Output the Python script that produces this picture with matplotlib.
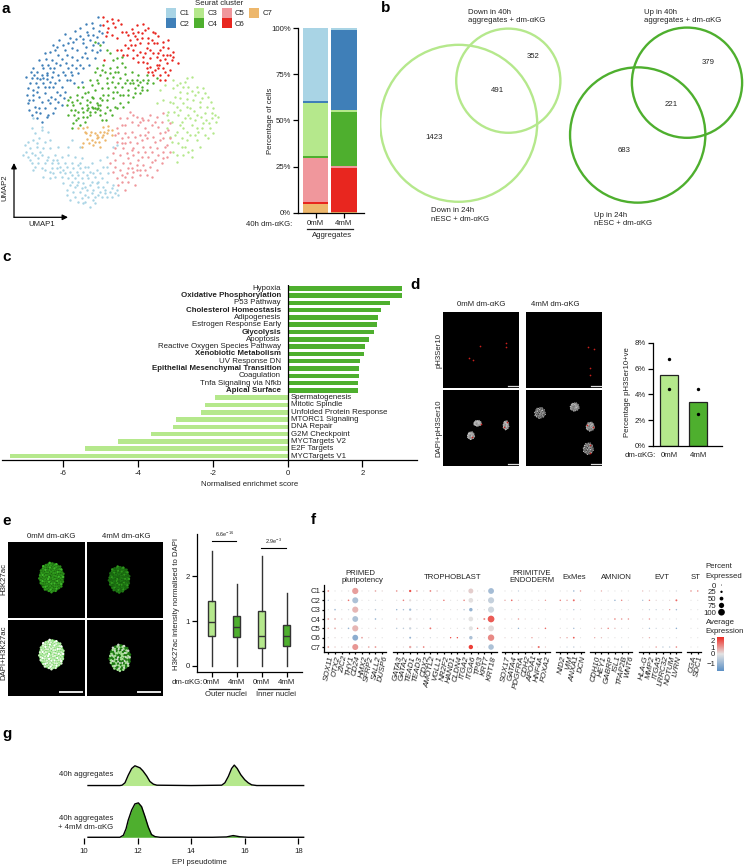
import numpy as np
import matplotlib
matplotlib.use('Agg')
import matplotlib.pyplot as plt
from matplotlib.colors import LinearSegmentedColormap, TwoSlopeNorm
from matplotlib.cm import ScalarMappable
from matplotlib.lines import Line2D
from matplotlib.patches import Patch, Circle, FancyArrowPatch, Ellipse

plt.rcParams.update({
    'font.family': ['Liberation Sans', 'DejaVu Sans'], 'font.size': 5.6,
    'axes.linewidth': 0.9, 'xtick.major.width': 0.9, 'ytick.major.width': 0.9,
    'xtick.major.size': 3.8, 'ytick.major.size': 3.8, 'xtick.major.pad': 1.5, 'ytick.major.pad': 1.5,
    'mathtext.fontset': 'custom', 'mathtext.rm': 'Liberation Sans', 'mathtext.default': 'regular',
    'text.color': '#222222', 'xtick.labelcolor': '#222222', 'ytick.labelcolor': '#222222',
})

# ---------------- palette
C1_COL, C2_COL, C3_COL, C4_COL, C5_COL, C6_COL, C7_COL = (
    '#a9d4e5', '#3f7fb8', '#b5e88c', '#4eaf2e', '#f0979c', '#e8261f', '#edb76c')
CLUSTER_COLS = [C1_COL, C2_COL, C3_COL, C4_COL, C5_COL, C6_COL, C7_COL]
CLUSTERS = ['C1', 'C2', 'C3', 'C4', 'C5', 'C6', 'C7']

# ---------------- panel a data
UMAP_C2 = [(293,50),(275,68),(257,72),(240,85),(225,92),(195,102),(178,120),(160,135),(135,160),(118,180),(100,205),(78,232),(90,250),(110,235),(125,225),(140,238),(155,232),(165,250),(148,262),(130,248),(115,262),(98,270),(82,285),(85,310),(100,300),(118,290),(135,280),(152,290),(170,275),(185,262),(200,240),(215,225),(235,220),(250,205),(268,195),(285,175),(300,150),(310,125),(290,110),(270,120),(250,130),(232,150),(215,170),(198,188),(180,195),(162,205),(145,195),(128,205),(112,215),(205,130),(220,125),(240,108),(260,95),(280,85),(300,75),(305,100),(195,150),(175,165),(155,180),(138,178),(215,195),(232,180),(255,160),(275,150),(295,130),(190,215),(205,205),(175,225),(160,215),(88,330),(105,320),(120,340),(135,325),(150,310),(165,298),(180,285),(195,275),(110,355),(125,365),(145,345),(165,325),(185,315),(95,345),(262,175),(240,195),(222,250),(245,245),(150,155),(170,140),(210,115),(125,195),(142,218),(100,285),(85,265),(290,155),
           (130,235),(142,225),(150,245),(120,238),(108,250),(135,262),(95,235),(88,300),(110,275),(125,305),(143,300),(160,262),(178,240),(195,225),(210,240),(228,205),(245,170),(258,140),(280,135),(228,118),(200,165),(185,178),(168,190),(150,205),(118,325),(140,352),(108,335),(160,340),(175,305),(192,295),(265,105),(250,118),(215,145),(188,135),(165,150),(278,105),(298,92),(212,215),(92,215),(102,225)]
UMAP_C6 = [(308,50),(320,62),(335,58),(355,60),(310,75),(325,85),(345,80),(362,72),(378,95),(395,88),(410,75),(430,72),(445,85),(460,95),(475,108),(490,125),(505,145),(520,155),(535,190),(515,180),(500,165),(480,150),(462,130),(445,115),(425,100),(405,108),(390,120),(375,135),(362,150),(380,165),(400,150),(420,130),(440,145),(460,160),(480,180),(500,190),(510,210),(490,205),(470,195),(450,175),(430,170),(415,185),(440,205),(455,215),(480,225),(505,225),(495,240),(350,115),(335,105),(318,108),(365,95),(420,155),(400,175),(385,145),(470,130),(490,165),(445,130),(412,118),(435,90),(475,205),(505,120),(312,180),(480,240),(465,100),
           (440,190),(450,200),(465,210),(478,195),(495,215),(460,225),(445,215),(430,185),(410,165),(392,135),(405,135),(425,115),(450,150),(470,170),(488,140),(510,165),(495,178),(415,95),(400,100),(368,165),(352,150),(385,105),(340,70),(322,95),(475,160),(435,160),(455,120),(520,170)]
UMAP_C4 = [(285,125),(300,135),(320,150),(340,180),(365,170),(310,195),(330,205),(350,200),(375,200),(395,215),(415,225),(440,225),(460,250),(420,245),(400,250),(380,240),(360,235),(340,230),(320,235),(300,225),(285,215),(270,240),(250,260),(232,285),(210,290),(200,315),(205,345),(220,370),(215,385),(235,355),(250,335),(265,325),(285,325),(300,330),(315,340),(335,345),(350,325),(370,320),(385,305),(400,290),(420,280),(440,270),(360,285),(340,295),(320,300),(300,295),(280,295),(260,300),(240,310),(225,330),(245,290),(265,275),(285,270),(305,265),(325,265),(345,260),(365,260),(385,270),(405,265),(425,260),(295,250),(315,215),(335,245),(355,215),(375,222),(275,320),(290,328),(300,345),(255,365),(240,375),(270,345),(320,320),(305,360),(345,320),(275,290),(290,240),(410,240),(430,240),(370,285),(350,175),(330,160),(470,235),(390,250),(235,260),(215,305),(260,315),(285,335),(250,350),(295,315),(310,285),
           (280,325),(270,335),(295,325),(262,330),(245,325),(235,335),(222,345),(212,330),(305,300),(325,285),(350,275),(375,250),(395,240),(415,255),(440,250),(330,220),(345,215),(365,190),(305,210),(290,205),(355,250),(275,255),(255,280),(230,300),(220,315),(270,305),(290,310),(330,330),(360,310),(385,285),(405,280),(425,270),(445,240),(320,250),(340,275),(300,315),(318,360),(260,350),(228,360),(205,300)]
UMAP_C3 = [(520,240),(540,250),(560,235),(575,230),(590,260),(610,265),(625,290),(640,325),(655,352),(635,355),(615,340),(600,320),(580,300),(560,280),(540,275),(525,290),(510,305),(530,320),(550,310),(570,325),(590,345),(610,370),(630,385),(640,400),(615,405),(595,395),(575,375),(555,355),(535,345),(515,365),(500,385),(510,410),(530,395),(550,385),(570,405),(590,420),(575,450),(555,440),(535,430),(520,455),(530,485),(550,465),(575,470),(545,415),(500,345),(480,270),(495,255),(520,265),(565,260),(605,295),(625,415),(600,440),(565,345),(585,285),(620,320),(545,365),(505,335),(470,310),(490,300),(555,245),(635,340),(515,425),(560,420),(585,360),
           (530,255),(548,262),(575,272),(595,275),(615,280),(632,305),(645,345),(628,370),(602,352),(582,332),(560,322),(540,330),(522,335),(518,310),(540,295),(560,298),(600,305),(618,360),(648,365),(605,385),(585,405),(560,395),(540,375),(525,405),(505,360),(545,440),(530,465),(565,455),(590,385),(570,355)]
UMAP_C5 = [(390,335),(410,350),(430,360),(450,345),(470,350),(490,340),(510,370),(495,395),(475,380),(455,375),(435,385),(415,375),(395,365),(375,375),(360,355),(355,400),(375,400),(395,395),(420,405),(440,415),(460,410),(480,420),(500,435),(510,455),(490,455),(470,445),(450,440),(430,440),(410,430),(390,425),(365,430),(345,445),(360,465),(380,460),(400,465),(425,470),(445,470),(465,480),(485,490),(470,510),(450,500),(430,495),(410,495),(390,490),(370,490),(345,480),(330,490),(340,515),(360,510),(380,520),(400,515),(420,525),(440,525),(385,545),(365,545),(350,535),(375,570),(405,555),(420,510),(455,530),(490,475),(510,415),(345,405),(370,445),(400,445),(415,455),(435,405),(385,475),(340,460),(365,375),(480,400),(500,470),(395,505),(375,530),(350,385),(425,355),
           (400,345),(420,365),(445,360),(465,365),(485,365),(505,390),(490,415),(465,425),(445,395),(425,420),(405,410),(385,410),(365,415),(350,425),(375,430),(395,450),(415,480),(435,455),(455,455),(475,465),(495,440),(455,485),(435,510),(410,510),(385,505),(365,525),(345,500),(355,555),(395,530),(380,355)]
UMAP_C7 = [(235,385),(250,385),(262,382),(258,400),(270,405),(285,400),(300,395),(310,380),(325,378),(335,390),(320,400),(305,410),(290,415),(275,420),(262,418),(250,430),(280,435),(298,425),(315,420),(335,405),(300,440),(268,430),(290,405),(245,440),(312,395),
           (255,395),(272,395),(295,410),(310,405),(285,425),(325,390)]
UMAP_C1 = [(95,385),(105,400),(125,390),(85,425),(100,420),(118,415),(135,425),(150,420),(75,435),(90,445),(110,440),(130,445),(150,445),(70,465),(85,470),(105,465),(125,465),(145,470),(165,465),(185,470),(205,465),(225,470),(245,475),(95,490),(115,490),(135,490),(155,490),(175,490),(195,490),(215,490),(235,495),(255,500),(275,490),(300,480),(320,470),(100,510),(125,505),(150,515),(170,505),(190,510),(210,515),(230,515),(250,515),(270,515),(290,510),(310,500),(325,520),(165,530),(185,530),(205,535),(225,535),(245,535),(265,535),(285,530),(305,535),(320,545),(340,555),(190,550),(210,555),(230,555),(250,550),(270,555),(290,550),(310,560),(330,575),(350,570),(200,570),(220,575),(240,575),(260,570),(280,570),(300,575),(320,590),(225,590),(245,595),(265,590),(285,590),(305,590),(250,610),(270,620),(280,600),(210,600),(150,535),(130,530),(215,420),(205,440),(240,440),(175,440),(340,440),(350,435),(145,395),(100,355),(125,380),(170,480),(240,490),(295,545),(265,500),(155,505),(115,475),(320,500),(355,585),(180,515),(235,605),
           (110,430),(95,460),(78,455),(120,455),(140,480),(160,480),(180,500),(200,500),(220,505),(240,505),(260,525),(280,520),(300,520),(215,545),(235,545),(255,560),(275,545),(295,560),(315,570),(335,590),(255,585),(275,580),(295,585),(315,580),(200,585),(225,560),(245,565),(105,500),(90,480),(135,510),(160,520),(195,520),(215,525),(235,525),(255,605),(345,580),(285,610),(335,565)]
UMAP_ALL = [UMAP_C1, UMAP_C2, UMAP_C3, UMAP_C4, UMAP_C5, UMAP_C6, UMAP_C7]

STACK_LABELS = ['0mM', '4mM']
STACK_C1 = [39.5, 1.0]
STACK_C2 = [1.2, 43.5]
STACK_C3 = [28.5, 1.0]
STACK_C4 = [1.0, 29.0]
STACK_C5 = [24.0, 1.0]
STACK_C6 = [1.0, 24.2]
STACK_C7 = [4.8, 0.3]

# ---------------- panel b data
VENN_DOWN = {'only24': 1423, 'both': 491, 'only40': 352}
VENN_UP = {'only24': 683, 'both': 221, 'only40': 379}

# ---------------- panel c data
UP_TERMS = ['Hypoxia', 'Oxidative Phosphorylation', 'P53 Pathway', 'Cholesterol Homeostasis', 'Adipogenesis',
            'Estrogen Response Early', 'Glycolysis', 'Apoptosis', 'Reactive Oxygen Species Pathway',
            'Xenobiotic Metabolism', 'UV Response DN', 'Epithelial Mesenchymal Transition', 'Coagulation',
            'Tnfa Signaling via Nfkb', 'Apical Surface']
UP_NES = [3.07, 3.05, 2.75, 2.51, 2.43, 2.39, 2.32, 2.18, 2.07, 2.03, 1.93, 1.91, 1.90, 1.89, 1.87]
BOLD_TERMS = ['Oxidative Phosphorylation', 'Cholesterol Homeostasis', 'Glycolysis', 'Xenobiotic Metabolism',
              'Epithelial Mesenchymal Transition', 'Apical Surface']
DOWN_TERMS = ['Spermatogenesis', 'Mitotic Spindle', 'Unfolded Protein Response', 'MTORC1 Signaling', 'DNA Repair',
              'G2M Checkpoint', 'MYCTargets V2', 'E2F Targets', 'MYCTargets V1']
DOWN_NES = [-1.94, -2.21, -2.32, -2.99, -3.07, -3.65, -4.55, -5.42, -7.44]

# ---------------- panel d data
PH3_LABELS = ['0mM', '4mM']
PH3_MEAN = [5.5, 3.4]
PH3_DOTS_0 = [6.7, 4.45]
PH3_DOTS_4 = [4.4, 2.5]

# ---------------- panel e data
BOX_LABELS = ['0mM', '4mM', '0mM', '4mM']
BOX_LOW = [0.0, 0.0, 0.0, 0.0]
BOX_Q1 = [0.66, 0.65, 0.40, 0.44]
BOX_MED = [0.98, 0.87, 0.66, 0.66]
BOX_Q3 = [1.44, 1.12, 1.23, 0.92]
BOX_HIGH = [2.57, 1.82, 2.45, 1.62]

# ---------------- panel f data
PRIMED_GENES = ['SOX11', 'OTX2', 'ZIC2', 'THY1', 'CD24', 'HMX2', 'SFRP2', 'SALL2', 'DUSP6']
PRIMED_PCT = [[14,6,6,8,92,6,6,13,8],[8,6,6,12,88,5,5,8,6],[6,13,6,8,90,5,5,10,6],[12,16,8,6,85,6,5,12,6],
              [10,15,6,12,90,5,5,8,6],[8,8,6,6,85,14,6,7,6],[13,8,7,8,88,6,13,15,6]]
PRIMED_AVG = [[1.2,0,0,0,.9,0,0,.8,.2],[-.6,0,0,1.5,-.7,0,0,-.2,0],[0,-.8,0,-.2,.6,0,0,-.5,0],[1,.6,.3,0,-.7,0,0,-1,-.1],
              [.8,.7,0,-.9,.6,0,0,.2,0],[.2,.1,.1,0,-1.1,.9,.2,0,0],[1.1,.4,.2,.1,1,0,.8,1,0]]
TROPH_GENES = ['GATA3', 'GATA2', 'TEAD1', 'TEAD3', 'CDX2', 'AMOTL2', 'VGLL1', 'NR2F2', 'HAND1', 'CLDN4', 'ITGA2',
               'ITGA6', 'TP63', 'KRT7', 'KRT18']
TROPH_PCT = [[12,6,24,12,6,15,12,6,5,6,6,70,5,8,85],[6,12,22,7,6,8,6,10,5,6,12,65,5,8,90],
             [10,10,24,7,6,8,6,6,5,6,10,45,5,8,90],[7,6,30,8,6,10,6,6,5,6,7,65,5,18,100],
             [10,10,25,7,6,16,6,6,5,6,7,55,10,12,85],[6,6,18,6,6,8,6,6,9,9,7,45,5,6,95],
             [6,6,25,12,13,7,6,6,5,6,7,60,6,5,80]]
TROPH_AVG = [[1.1,0,2,.9,0,1.3,.4,0,0,0,0,.3,0,0,-.8],[0,1.3,.1,0,0,0,0,1.5,0,0,1.2,.05,0,0,-.4],
             [-.9,-.7,-.8,-.2,0,-.2,0,0,0,0,-.5,-1,0,0,-.25],[.4,0,.1,0,0,-.5,0,0,0,0,-.2,0,0,1.2,1.8],
             [-.5,-.5,-.3,-.2,0,1.5,0,0,0,0,-.2,0,1.5,.3,.1],[0,0,-1,0,0,-.2,0,0,2,2,0,-.7,0,0,1.2],
             [.1,.1,.8,-.4,1.4,0,0,0,0,0,0,2.2,0,0,-.7]]
PE_GENES = ['SOX17', 'GATA4', 'PDGFRA', 'CDH2', 'APOA1', 'HNF4A', 'FOXA2']
PE_PCT = [[6,6,6,5,5,6,6],[10,13,6,6,6,6,8],[6,6,6,6,5,5,5],[6,6,10,6,5,5,5],[6,6,9,5,5,6,11],[6,6,6,6,8,6,6],[6,6,6,6,6,20,6]]
PE_AVG = [[0,0,-.5,0,0,0,0],[.7,1.6,.2,0,0,.2,1],[0,0,-.2,0,0,0,0],[.2,0,1,.2,0,0,0],[0,0,-1,0,0,.2,1.6],[.2,.2,0,0,1,0,0],[0,0,.2,0,.4,1.5,.4]]
EXMES_GENES = ['NID2', 'VIM', 'ANXA1', 'DCN']
EXMES_PCT = [[6,6,10,10],[11,9,18,6],[6,6,9,5],[6,6,6,5],[6,6,9,5],[8,9,15,5],[6,6,10,5]]
EXMES_AVG = [[0,0,-1,1],[1.3,.9,1.6,0],[0,0,-.5,0],[0,0,.2,0],[0,0,-.8,0],[.5,.8,1.8,0],[0,-.3,-.4,0]]
AMNION_GENES = ['CDH10', 'HEY1', 'GABRP', 'ISL1', 'TFAP2B', 'WNT6']
AMNION_PCT = [[6,8,6,5,6,5],[5,6,6,10,10,5],[5,6,5,5,5,5],[5,6,6,12,11,10],[6,8,10,9,6,5],[8,8,6,5,5,5],[6,5,6,5,8,5]]
AMNION_AVG = [[0,.8,0,0,0,0],[0,0,0,-1,1.2,0],[0,0,0,0,0,0],[0,0,.1,1.3,1,1.1],[.2,.5,1.3,.5,0,0],[.8,.5,0,0,0,0],[0,0,0,0,-.4,0]]
EVT_GENES = ['HLA-G', 'MMP2', 'ITGA5', 'LRRC32', 'NOTUM', 'LVRN']
EVT_PCT = [[7,6,6,5,5,8],[8,10,7,5,6,18],[6,6,7,6,8,10],[6,10,6,6,5,5],[6,8,6,5,5,10],[6,8,6,5,5,6],[6,6,10,9,9,12]]
EVT_AVG = [[.6,.2,.2,0,0,-.2],[-.7,1.2,.2,0,.2,1.6],[0,-.4,-.4,0,1,-.8],[.2,1,0,.2,0,0],[0,-.7,-.3,0,0,-1.1],[.3,.7,0,0,0,0],[0,0,.9,-.5,-.5,1.2]]
ST_GENES = ['CGA', 'SDC1']
ST_PCT = [[12,11],[5,5],[5,5],[5,5],[5,5],[5,5],[5,5]]
ST_AVG = [[1,1.2],[0,0],[0,0],[0,0],[0,0],[0,0],[0,0]]
SIZE_LEGEND = [0, 25, 50, 75, 100]

# ---------------- panel g data
RIDGE_X_TOP = [10.15,11.34,11.42,11.53,11.65,11.78,11.90,12.09,12.20,12.34,12.46,12.59,12.72,14.0,15.14,15.26,15.39,15.51,15.61,15.72,15.85,16.00,16.13,16.26,16.45,18.2]
RIDGE_Y_TOP = [0,0,.01,.08,.30,.50,.58,.52,.43,.28,.12,.04,.01,0,.01,.08,.27,.50,.60,.50,.32,.17,.08,.02,0,0]
RIDGE_X_BOT = [10.15,11.34,11.47,11.57,11.65,11.78,11.90,12.03,12.15,12.28,12.40,12.52,12.65,12.84,14.8,15.32,15.57,15.82,16.13,18.2]
RIDGE_Y_BOT = [0,0,.06,.25,.50,.80,.98,1.01,.90,.60,.30,.08,.02,0,0,.01,.05,.015,0,0]
RIDGE_TICKS = [10, 12, 14, 16, 18]

# ---------------- helpers
W, H = 744, 867
fig = plt.figure(figsize=(W/100, H/100), dpi=100)

def axpx(l, t, r, b, **kw):
    return fig.add_axes([l/W, 1-b/H, (r-l)/W, (b-t)/H], **kw)

def T(x, y, s, ha='center', va='center', **kw):
    return fig.text(x/W, 1-y/H, s, ha=ha, va=va, **kw)

def hline(x0, x1, y, lw=0.9, color='#222222'):
    fig.add_artist(Line2D([x0/W, x1/W], [1-y/H, 1-y/H], lw=lw, color=color))

def clean(ax):
    ax.spines[['top', 'right']].set_visible(False)

for lab, x, y in [('a',2,9),('b',381,8),('c',2,257),('d',410,285),('e',2,521),('f',311,520),('g',2,734)]:
    T(x, y, lab, ha='left', fontsize=11, fontweight='bold', color='k')

# ---------------- a : UMAP
ax = axpx(0, 0, 240, 215)
ax.set_xlim(0, 720); ax.set_ylim(645, 0); ax.axis('off')
for pts, col in zip(UMAP_ALL, CLUSTER_COLS):
    p = np.array(pts)
    ax.scatter(p[:, 0], p[:, 1], s=3.0, c=col, linewidths=0)
for end in [(14, 163), (68, 217.3)]:
    fig.add_artist(FancyArrowPatch((14/W, 1-217.3/H), (end[0]/W, 1-end[1]/H), transform=fig.transFigure,
                                   arrowstyle='-|>', mutation_scale=8, lw=0.9, color='k', shrinkA=0, shrinkB=0))
T(5, 188, 'UMAP2', rotation=90)
T(41.7, 224, 'UMAP1')
fig.legend(handles=[Patch(facecolor=c, edgecolor='none', label=l) for c, l in zip(CLUSTER_COLS, CLUSTERS)],
           ncol=4, loc='upper left', bbox_to_anchor=(165.5/W, 1+0.5/H), frameon=False, title='Seurat cluster',
           title_fontsize=5.6, fontsize=5.6, handlelength=1.28, handleheight=1.6, columnspacing=0.6,
           handletextpad=0.42, labelspacing=0.05, borderpad=0.1, borderaxespad=0)

# ---------------- a : stacked bars
ax = axpx(298.3, 28.3, 364, 212.7)
ax.set_xlim(-0.61, 1.72); ax.set_ylim(0, 100); clean(ax)
bottom = np.zeros(2)
for vals, col in zip([STACK_C7, STACK_C6, STACK_C5, STACK_C4, STACK_C3, STACK_C2, STACK_C1],
                     [C7_COL, C6_COL, C5_COL, C4_COL, C3_COL, C2_COL, C1_COL]):
    ax.bar(range(2), vals, bottom=bottom, width=0.91, color=col, linewidth=0)
    bottom += np.array(vals)
ax.set_xticks(range(2), STACK_LABELS)
ax.set_yticks([0, 25, 50, 75, 100], ['0%', '25%', '50%', '75%', '100%'])
T(270, 120.7, 'Percentage of cells', rotation=90)
T(292.7, 224, '40h dm-αKG:', ha='right')
hline(306.7, 353, 229.3)
T(331.7, 235, 'Aggregates')

# ---------------- b : venn
ax = axpx(380, 0, 744, 240)
ax.set_xlim(380, 744); ax.set_ylim(240, 0); ax.axis('off')
def venn(data, c_big, c_small, k, col):
    ax.add_patch(Circle(c_big, k*np.sqrt(data['only24']+data['both']), fill=False, ec=col, lw=1.7))
    ax.add_patch(Circle(c_small, k*np.sqrt(data['only40']+data['both']), fill=False, ec=col, lw=1.7))
venn(VENN_DOWN, (458.7, 123.3), (508.3, 80.7), 1.794, C3_COL)
venn(VENN_UP, (637.7, 135), (687, 82.7), 2.25, C4_COL)
T(532.7, 57, str(VENN_DOWN['only40']))
T(497, 90.3, str(VENN_DOWN['both']))
T(434.3, 137.3, str(VENN_DOWN['only24']))
T(708.7, 62, str(VENN_UP['only40']))
T(671.3, 104.3, str(VENN_UP['both']))
T(624.3, 150.7, str(VENN_UP['only24']))
T(468.3, 16.3, 'Down in 40h\naggregates + dm-αKG', ha='left', linespacing=1.25)
T(644.3, 16.3, 'Up in 40h\naggregates + dm-αKG', ha='left', linespacing=1.25)
T(430.7, 215, 'Down in 24h\nnESC + dm-αKG', ha='left', linespacing=1.25)
T(593.7, 219.3, 'Up in 24h\nnESC + dm-αKG', ha='left', linespacing=1.25)

# ---------------- c : enrichment
ax = axpx(1.7, 285, 417, 459.7)
ax.set_xlim(-7.65, 3.46); ax.set_ylim(23.5, -0.45)
ax.spines[['top', 'right', 'left']].set_visible(False)
ax.barh(range(len(UP_NES)), UP_NES, height=0.62, color=C4_COL)
ypos = np.arange(len(DOWN_NES)) + len(UP_NES)
ax.barh(ypos, DOWN_NES, height=0.62, color=C3_COL)
ax.axvline(0, color='k', lw=0.9)
for i, t in enumerate(UP_TERMS):
    ax.text(-0.18, i, t, ha='right', va='center', fontsize=5.7, fontweight='bold' if t in BOLD_TERMS else 'normal')
for y, t in zip(ypos, DOWN_TERMS):
    ax.text(0.09, y, t, ha='left', va='center', fontsize=5.7)
ax.set_xticks([-6, -4, -2, 0, 2], ['-6', '-4', '-2', '0', '2'])
ax.set_yticks([])
ax.tick_params(axis='x', length=5, pad=2.2)
T(250, 484, 'Normalised enrichmet score')

# ---------------- microscopy helper (decorative speckle laid out on a sunflower lattice)
def speckle(ax, cx, cy, rx, ry, n, size, cols, base=None):
    if base:
        ax.add_patch(Ellipse((cx, cy), 2*rx, 2*ry, color=base, lw=0))
    i = np.arange(n)
    r = np.sqrt((i + 0.5) / n); th = i * 2.39996
    ax.scatter(cx + rx*r*np.cos(th), cy + ry*r*np.sin(th), s=size,
               c=[cols[j % len(cols)] for j in (i*i*3 + i)], linewidths=0)

def img(l, t, r, b, x0, y0, x1, y1):
    a = axpx(l, t, r, b)
    a.set_facecolor('k'); a.set_xlim(x0, x1); a.set_ylim(y1, y0)
    a.set_xticks([]); a.set_yticks([])
    for s in a.spines.values():
        s.set_visible(False)
    return a

# ---------------- d : images
D_RED_TL = [(209,168),(289,160),(289,171),(178,203),(190,210)]
D_RED_TR = [(534,170),(551,176),(540,235),(539,256)]
D_RED_BL = [(212,403),(290,397),(186,441),(283,410)]
D_RED_BR = [(531,405),(550,410),(540,465),(540,490)]
GR = ['#c8c8c8', '#666666', '#999999', '#3a3a3a', '#b0b0b0']
d_panels = [
    (442.7, 311.7, 519.3, 388.3, 98, 65, 328, 295, D_RED_TL, []),
    (525.7, 311.7, 602.3, 388.3, 347, 65, 577, 295, D_RED_TR, []),
    (442.7, 390, 519.3, 466, 98, 300, 328, 528, D_RED_BL, [(203,400,12,9),(288,406,9,14),(183,437,11,12)]),
    (525.7, 390, 602.3, 466, 347, 300, 577, 528, D_RED_BR, [(390,369,17,17),(494,351,14,13),(541,410,13,14),(535,476,16,18)]),
]
for l, t, r, b, x0, y0, x1, y1, reds, blobs in d_panels:
    a = img(l, t, r, b, x0, y0, x1, y1)
    for cx, cy, rx, ry in blobs:
        speckle(a, cx, cy, rx, ry, 45, 0.9, GR, base='#2a2a2a')
    p = np.array(reds)
    a.scatter(p[:, 0], p[:, 1], s=1.5, c='#c8201c', linewidths=0, zorder=3)
    a.plot([x1-33, x1-3], [y1-7, y1-7], color='#dddddd', lw=0.9)
T(480.7, 304, '0mM dm-αKG')
T(555.7, 304, '4mM dm-αKG')
T(439, 351, 'pH3Ser10', rotation=90)
T(439, 428.3, 'DAPI+pH3Ser10', rotation=90)

# ---------------- d : bars
ax = axpx(653.3, 342.7, 721.7, 446)
ax.set_xlim(-0.53, 1.79); ax.set_ylim(0, 8); clean(ax)
ax.bar([0, 1], PH3_MEAN, width=0.61, color=[C3_COL, C4_COL], edgecolor='#222222', linewidth=0.9)
ax.scatter([0, 0], PH3_DOTS_0, s=6, c='k', linewidths=0, zorder=3)
ax.scatter([1, 1], PH3_DOTS_4, s=6, c='k', linewidths=0, zorder=3)
ax.set_xticks([0, 1], PH3_LABELS)
ax.tick_params(axis='x', length=0, pad=4)
ax.set_yticks([0, 2, 4, 6, 8], ['0%', '2%', '4%', '6%', '8%'])
T(627.3, 391.7, 'Percentage pH3Ser10+ve', rotation=90)
T(656, 456, 'dm-αKG:', ha='right')

# ---------------- e : images
G_TOP = ['#2f9a1c', '#1a6a10', '#3fb82a', '#174f0e', '#2a8a18']
G_TOP2 = ['#1f7a14', '#155a0e', '#2f9a1c', '#0f420a', '#1a6a10']
G_BOT = ['#dff5d6', '#5ac84a', '#ffffff', '#8ee07a', '#b8ecaa']
G_BOT2 = ['#a8e098', '#2f9a1c', '#cfd8cc', '#4bb03a', '#1f7a14']
e_panels = [
    (8.3, 541.7, 85.3, 618.3, 25, 125, 256, 355, (155,232,38,45), G_TOP, False, '#14560c'),
    (86.7, 541.7, 163.3, 618.3, 260, 125, 490, 355, (358,238,32,40), G_TOP2, False, '#0d3a08'),
    (8.3, 619.7, 85.3, 696, 25, 359, 256, 588, (155,463,38,45), G_BOT, True, '#5ac84a'),
    (86.7, 619.7, 163.3, 696, 260, 359, 490, 588, (360,473,32,40), G_BOT2, True, '#1f7a14'),
]
for l, t, r, b, x0, y0, x1, y1, (cx, cy, rx, ry), cols, bar, base in e_panels:
    a = img(l, t, r, b, x0, y0, x1, y1)
    speckle(a, cx, cy, rx, ry, 110, 3.2, cols, base=base)
    if bar:
        a.plot([x1-76, x1-9], [y1-13, y1-13], color='#e8e8e8', lw=1.4)
T(51, 536, '0mM dm-αKG')
T(126.7, 536, '4mM dm-αKG')
T(4, 579, 'H3K27ac', rotation=90)
T(4, 653, 'DAPI+H3K27ac', rotation=90)

# ---------------- e : boxes
ax = axpx(197.3, 534.3, 301.7, 672)
ax.set_xlim(-0.576, 3.6); ax.set_ylim(-0.14, 2.94); clean(ax)
stats = [dict(med=m, q1=a1, q3=a3, whislo=lo, whishi=hi, fliers=[])
         for m, a1, a3, lo, hi in zip(BOX_MED, BOX_Q1, BOX_Q3, BOX_LOW, BOX_HIGH)]
dark = '#333333'
bp = ax.bxp(stats, positions=range(4), widths=0.29, patch_artist=True, showcaps=False, showfliers=False,
            boxprops=dict(edgecolor=dark, linewidth=1.0), medianprops=dict(color=dark, linewidth=1.0),
            whiskerprops=dict(color=dark, linewidth=1.0), manage_ticks=False)
for patch, col in zip(bp['boxes'], [C3_COL, C4_COL, C3_COL, C4_COL]):
    patch.set_facecolor(col)
ax.set_xticks(range(4), BOX_LABELS)
ax.set_yticks([0, 1, 2])
ax.plot([0.02, 0.99], [2.8, 2.8], color='k', lw=0.8)
ax.plot([1.98, 2.96], [2.64, 2.64], color='k', lw=0.8)
ax.text(0.5, 2.83, '6.6e$^{-16}$', ha='center', va='bottom', fontsize=4)
ax.text(2.47, 2.67, '2.9e$^{-3}$', ha='center', va='bottom', fontsize=4)
T(176.7, 604, 'H3K27ac intensity normalised to DAPI', rotation=90)
T(203, 682.7, 'dm-αKG:', ha='right')
hline(209, 240, 689); hline(258.3, 289.3, 689)
T(226, 695, 'Outer nuclei'); T(275.7, 695, 'Inner nuclei')

# ---------------- f : dot plot
cmap = LinearSegmentedColormap.from_list('dot', ['#5b8fc4', '#e3e3e3', '#ee2b24'])
norm = TwoSlopeNorm(vmin=-1.73, vcenter=0, vmax=2.45)
def dsize(p):
    return (0.72 * (0.9 + 5.8 * np.asarray(p, float) / 100)) ** 2

groups = [
    (PRIMED_GENES, PRIMED_PCT, PRIMED_AVG, 328.3, 324.3, 386),
    (TROPH_GENES, TROPH_PCT, TROPH_AVG, 396.7, 392.7, 497),
    (PE_GENES, PE_PCT, PE_AVG, 505, 501.7, 550),
    (EXMES_GENES, EXMES_PCT, EXMES_AVG, 560.3, 556.3, 583.7),
    (AMNION_GENES, AMNION_PCT, AMNION_AVG, 594.7, 590.3, 632.3),
    (EVT_GENES, EVT_PCT, EVT_AVG, 642.7, 638.7, 681),
    (ST_GENES, ST_PCT, ST_AVG, 691, 687, 701),
]
for gi, (genes, pct, avg, x0, l, r) in enumerate(groups):
    a = axpx(l, 585, r, 651.7)
    a.patch.set_alpha(0)
    a.set_xlim((l-x0)/6.74, (r-x0)/6.74); a.set_ylim(6.5, -0.64)
    a.spines[['top', 'right']].set_visible(False)
    xx, yy = np.meshgrid(range(len(genes)), range(7))
    a.scatter(xx.ravel(), yy.ravel(), s=dsize(np.ravel(pct)), c=np.ravel(avg), cmap=cmap, norm=norm, linewidths=0)
    a.set_xticks(range(len(genes)))
    a.set_xticklabels(genes, rotation=78, ha='right', va='top', rotation_mode='anchor', style='italic', fontsize=5.8)
    a.tick_params(axis='x', length=1.5, pad=1)
    if gi == 0:
        a.set_yticks(range(7), CLUSTERS)
        a.tick_params(axis='y', length=1.5, pad=1.5)
    else:
        a.set_yticks([]); a.spines['left'].set_visible(False)
T(360, 573.3, 'PRIMED'); T(362, 580.7, 'pluripotency')
T(453, 577.7, 'TROPHOBLAST')
T(532, 573.3, 'PRIMITIVE'); T(532, 580.7, 'ENDODERM')
T(574, 577.7, 'ExMes'); T(616.3, 577.7, 'AMNION'); T(662, 577.7, 'EVT'); T(695.7, 577.7, 'ST')
T(705.7, 566.7, 'Percent', ha='left'); T(705.7, 576.3, 'Expressed', ha='left')
T(705.7, 622.3, 'Average', ha='left'); T(705.7, 631.7, 'Expression', ha='left')

a = axpx(717, 580, 726, 616)
a.set_xlim(-.5, .5); a.set_ylim(4.56, -0.74); a.patch.set_alpha(0)
for s in a.spines.values():
    s.set_visible(False)
a.scatter(np.zeros(5), range(5), s=dsize(SIZE_LEGEND), c='k', linewidths=0)
a.set_xticks([]); a.set_yticks(range(5), [str(v) for v in SIZE_LEGEND])
a.tick_params(axis='y', length=0, pad=0.5)

cax = axpx(717.3, 637, 724, 671)
cb = fig.colorbar(ScalarMappable(norm=norm, cmap=cmap), cax=cax)
cb.outline.set_visible(False)
cb.ax.yaxis.set_ticks_position('left')
cb.set_ticks([-1, 0, 1, 2], labels=['−1', '0', '1', '2'])
cb.ax.tick_params(length=0, pad=1.5)

# ---------------- g : ridges
ax = axpx(84, 760, 298.3, 838.3)
ax.set_xlim(10, 18); ax.set_ylim(-0.03, 2.27)
ax.patch.set_alpha(0)
for s in ax.spines.values():
    s.set_visible(False)
OFFSET_TOP = 1.52
ytop = np.array(RIDGE_Y_TOP) + OFFSET_TOP
ax.fill_between(RIDGE_X_TOP, OFFSET_TOP, ytop, color=C3_COL, lw=0)
ax.plot(RIDGE_X_TOP, ytop, color='k', lw=1.0, clip_on=False)
ax.fill_between(RIDGE_X_BOT, 0, RIDGE_Y_BOT, color=C4_COL, lw=0)
ax.plot(RIDGE_X_BOT, RIDGE_Y_BOT, color='k', lw=1.0, clip_on=False)
ax.set_xticks(RIDGE_TICKS)
ax.set_yticks([])
ax.tick_params(axis='x', length=4.3, pad=2.5)
T(86, 774.3, '40h aggregates')
T(86, 823, '40h aggregates\n+ 4mM dm-αKG', linespacing=1.3)
T(199.3, 862.3, 'EPI pseudotime')

fig.savefig('out.png', dpi=100)
